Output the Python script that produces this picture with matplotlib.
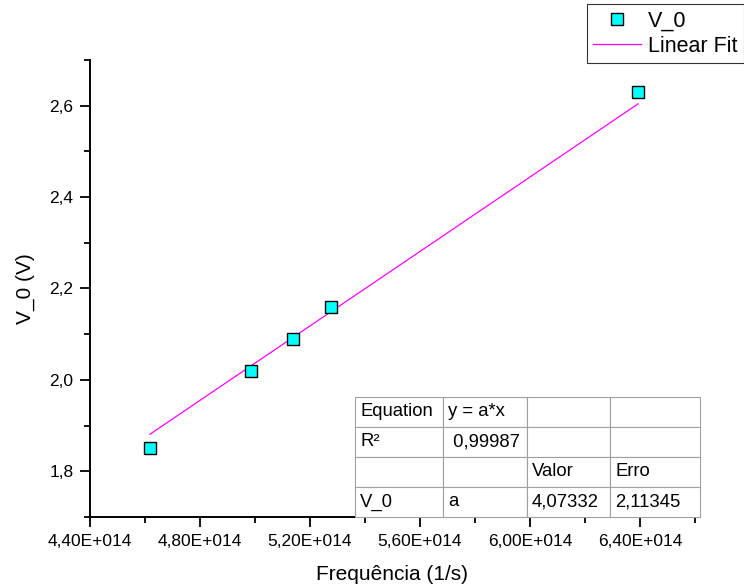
import matplotlib
matplotlib.use('Agg')
import matplotlib.pyplot as plt
from matplotlib.ticker import MultipleLocator, FuncFormatter
import numpy as np

plt.rcParams['font.family'] = ['Liberation Sans', 'DejaVu Sans']

# Data
freq = [4.618e14, 4.985e14, 5.138e14, 5.276e14, 6.393e14]
v0 = [1.85, 2.02, 2.09, 2.16, 2.63]
slope = 4.07332e-15

table_rows = [
    ['Equation', 'y = a*x', '', ''],
    ['R²', ' 0,99987', '', ''],
    ['', '', 'Valor', 'Erro'],
    ['V_0', 'a', '4,07332', '2,11345'],
]

fig = plt.figure(figsize=(7.44, 5.85), dpi=100)
ax = fig.add_axes([90/744, (585-517)/585, (695-90)/744, (517-60)/585])

xfit = np.array([freq[0], freq[-1]])
ax.plot(freq, v0, 's', color='#00ffff', markeredgecolor='black',
        markeredgewidth=1.0, markersize=9, label='V_0', zorder=3)
ax.plot(xfit, slope * xfit, '-', color='#ff00ff', linewidth=0.9,
        label='Linear Fit', zorder=2)

ax.set_xlim(4.4e14, 6.6e14)
ax.set_ylim(1.7, 2.7)
ax.xaxis.set_major_locator(MultipleLocator(0.4e14))
ax.xaxis.set_minor_locator(MultipleLocator(0.2e14))
ax.yaxis.set_major_locator(MultipleLocator(0.2))
ax.yaxis.set_minor_locator(MultipleLocator(0.1))

def xfmt(v, pos):
    return f'{v/1e14:.2f}E+014'.replace('.', ',')

ax.xaxis.set_major_formatter(FuncFormatter(xfmt))
ax.yaxis.set_major_formatter(FuncFormatter(lambda v, p: f'{v:.1f}'.replace('.', ',')))

for s in ['top', 'right']:
    ax.spines[s].set_visible(False)
for s in ['left', 'bottom']:
    ax.spines[s].set_linewidth(1.4)
ax.tick_params(which='major', direction='out', length=7, width=1.3,
               labelsize=12.5, pad=5)
ax.tick_params(which='minor', direction='out', length=4, width=1.3)

ax.set_xlabel('Frequência (1/s)', fontsize=15, labelpad=12)
ax.set_ylabel('V_0 (V)', fontsize=15, labelpad=10)

leg = fig.legend(loc='upper left', bbox_to_anchor=(587/744, 1 - 4/585),
                 fontsize=15.5, frameon=True, fancybox=False, edgecolor='black',
                 borderaxespad=0, handlelength=2.2, labelspacing=0.2,
                 borderpad=0.3, handletextpad=0.35)
leg.get_frame().set_linewidth(0.8)

# Fit results table
tab = ax.table(cellText=table_rows, cellLoc='left',
               colWidths=[88, 84, 83, 90],
               bbox=[(355-90)/605, 0, (700-355)/605, (517-397)/457])
tab.auto_set_font_size(False)
tab.set_fontsize(13.3)
for (i, j), cell in tab.get_celld().items():
    cell.set_edgecolor('#a0a0a0')
    cell.set_linewidth(0.8)
    cell.set_facecolor('white')
    cell.PAD = 0.06
tab.set_zorder(5)

fig.savefig('out.png', dpi=100)
